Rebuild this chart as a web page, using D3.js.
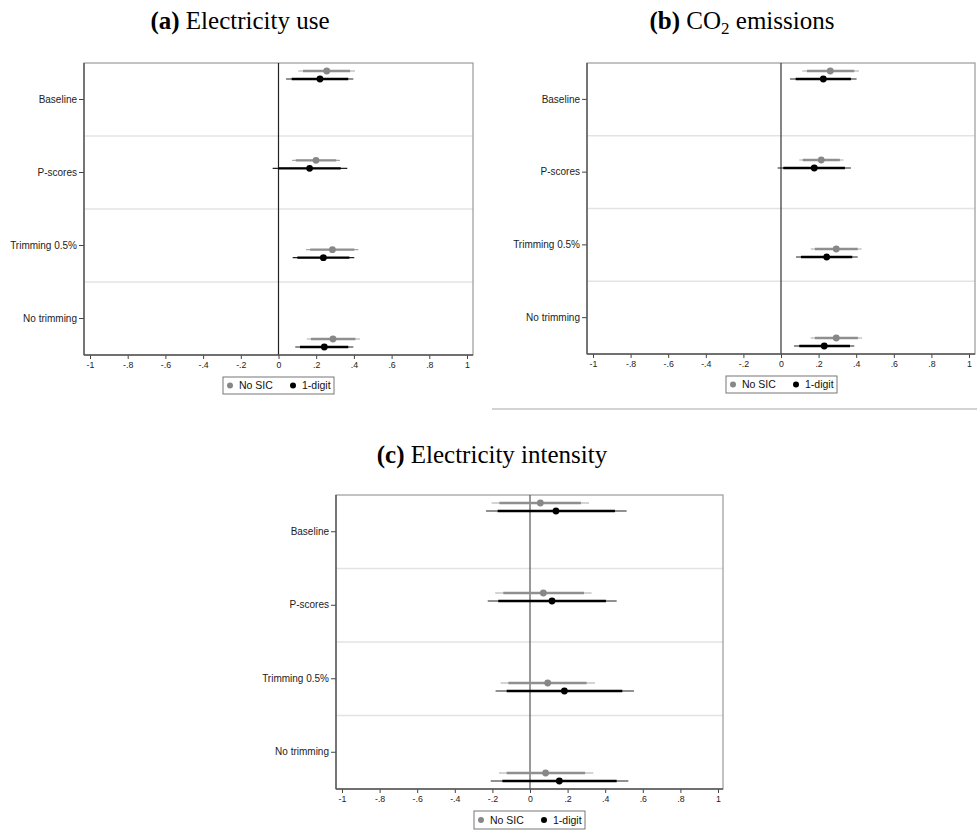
<!DOCTYPE html>
<html>
<head>
<meta charset="utf-8">
<script src="https://cdn.jsdelivr.net/npm/d3@7"></script>
<style>
  html, body { margin: 0; padding: 0; background: #fff; }
  svg { display: block; }
</style>
</head>
<body>
<svg id="fig" width="977" height="839"></svg>
<script>
// Specifications (rows) and the two fixed-effect variants (series)
const categories = ["Baseline", "P-scores", "Trimming 0.5%", "No trimming"];
const seriesNames = ["No SIC", "1-digit"];
const tickValues = [-1, -0.8, -0.6, -0.4, -0.2, 0, 0.2, 0.4, 0.6, 0.8, 1];
const tickLabels = ["-1", "-.8", "-.6", "-.4", "-.2", "0", ".2", ".4", ".6", ".8", "1"];

// Each row: [estimate, lo95, hi95, lo90, hi90]
const useNoSIC      = [[0.256, 0.105, 0.406, 0.130, 0.380],
                       [0.199, 0.072, 0.326, 0.092, 0.306],
                       [0.286, 0.146, 0.424, 0.168, 0.402],
                       [0.289, 0.150, 0.432, 0.172, 0.408]];
const useOneDigit   = [[0.220, 0.040, 0.397, 0.070, 0.370],
                       [0.165, -0.031, 0.365, 0.000, 0.330],
                       [0.238, 0.075, 0.402, 0.100, 0.376],
                       [0.243, 0.089, 0.397, 0.114, 0.370]];
const co2NoSIC      = [[0.262, 0.113, 0.415, 0.138, 0.390],
                       [0.214, 0.097, 0.332, 0.116, 0.313],
                       [0.294, 0.158, 0.429, 0.180, 0.408],
                       [0.294, 0.158, 0.431, 0.180, 0.409]];
const co2OneDigit   = [[0.225, 0.048, 0.402, 0.078, 0.372],
                       [0.177, -0.018, 0.372, 0.012, 0.340],
                       [0.243, 0.080, 0.408, 0.106, 0.379],
                       [0.230, 0.069, 0.390, 0.097, 0.367]];
const intensNoSIC   = [[0.055, -0.204, 0.314, -0.163, 0.271],
                       [0.071, -0.185, 0.328, -0.142, 0.287],
                       [0.094, -0.156, 0.346, -0.115, 0.301],
                       [0.083, -0.165, 0.337, -0.124, 0.293]];
const intensOneDigit= [[0.138, -0.234, 0.514, -0.172, 0.452],
                       [0.117, -0.225, 0.461, -0.169, 0.404],
                       [0.183, -0.183, 0.553, -0.124, 0.491],
                       [0.156, -0.209, 0.523, -0.147, 0.461]];

const svg = d3.select("#fig");
const sans = "'Liberation Sans', Arial, sans-serif";
const serif = "'Liberation Serif', 'Times New Roman', serif";
const colors = { line95: ["#a9a9a9", "#222"], line90: ["#8f8f8f", "#000"], dot: ["#878787", "#000"] };

function drawTitle(cx, y, label, parts) {
  const t = svg.append("text")
    .attr("x", cx).attr("y", y)
    .attr("text-anchor", "middle")
    .attr("font-family", serif).attr("font-size", 25)
    .attr("fill", "#000");
  t.append("tspan").attr("font-weight", "bold").text(label);
  parts.forEach(p => {
    const s = t.append("tspan").text(p.text);
    if (p.sub) s.attr("font-size", 17).attr("dy", 5);
    if (p.reset) s.attr("dy", -5);
  });
}

function drawPanel(cfg, series) {
  const g = svg.append("g");
  const { left, right, top, bottom } = cfg.box;

  const x = d3.scaleLinear().domain([-1, 1]).range(cfg.xRange);
  const yBand = d3.scaleBand().domain(categories).range([top, bottom]);
  const yPt = d3.scaleLinear().domain([0, categories.length - 1]).range([top + 8, bottom - 16]);

  // row separators
  categories.slice(1).forEach(c => {
    g.append("line")
      .attr("x1", left).attr("x2", right)
      .attr("y1", yBand(c)).attr("y2", yBand(c))
      .attr("stroke", "#e3e3e3").attr("stroke-width", 1.5);
  });

  // plot-region frame
  g.append("rect")
    .attr("x", left).attr("y", top)
    .attr("width", right - left).attr("height", bottom - top)
    .attr("fill", "none").attr("stroke", "#9a9a9a").attr("stroke-width", 1.2);

  // zero reference line
  g.append("line")
    .attr("x1", x(0)).attr("x2", x(0))
    .attr("y1", top).attr("y2", bottom)
    .attr("stroke", cfg.zeroColor).attr("stroke-width", 1.2);

  // x axis
  const xAxis = d3.axisBottom(x)
    .tickValues(tickValues)
    .tickSize(4)
    .tickPadding(3)
    .tickFormat((d, i) => tickLabels[i]);
  const ax = g.append("g").attr("transform", `translate(0,${bottom})`).call(xAxis);
  ax.select(".domain").remove();
  ax.selectAll(".tick line").attr("stroke", "#444");
  ax.selectAll(".tick text").attr("font-family", sans).attr("font-size", 8.8).attr("fill", "#222");
  g.append("line").attr("x1", left).attr("x2", right).attr("y1", bottom).attr("y2", bottom)
    .attr("stroke", "#555").attr("stroke-width", 1.4);

  // y axis
  const yAxis = d3.axisLeft(yBand).tickSize(5).tickPadding(2);
  const ay = g.append("g").attr("transform", `translate(${left},0)`).call(yAxis);
  ay.select(".domain").remove();
  ay.selectAll(".tick line").attr("stroke", "#444");
  ay.selectAll(".tick text").attr("font-family", sans).attr("font-size", 10).attr("fill", "#222");
  g.append("line").attr("x1", left).attr("x2", left).attr("y1", top).attr("y2", bottom)
    .attr("stroke", "#555").attr("stroke-width", 1.4);

  // confidence intervals and point estimates
  series.forEach((rows, s) => {
    const off = s * 8;
    rows.forEach((r, i) => {
      const y = yPt(i) + off;
      g.append("line")
        .attr("x1", x(r[1])).attr("x2", x(r[2]))
        .attr("y1", y).attr("y2", y)
        .attr("stroke", colors.line95[s]).attr("stroke-width", 1.2);
      g.append("line")
        .attr("x1", x(r[3])).attr("x2", x(r[4]))
        .attr("y1", y).attr("y2", y)
        .attr("stroke", colors.line90[s]).attr("stroke-width", 2.4);
      g.append("circle")
        .attr("cx", x(r[0])).attr("cy", y).attr("r", 3.4)
        .attr("fill", colors.dot[s]);
    });
  });

  // legend
  const L = cfg.legend;
  g.append("rect")
    .attr("x", L.x).attr("y", L.y).attr("width", L.w).attr("height", L.h)
    .attr("fill", "#fff").attr("stroke", "#777").attr("stroke-width", 1);
  const items = [{ dx: 7, tx: 16 }, { dx: 70, tx: 79 }];
  seriesNames.forEach((name, s) => {
    g.append("circle")
      .attr("cx", L.x + items[s].dx).attr("cy", L.y + L.h / 2).attr("r", 3)
      .attr("fill", colors.dot[s]);
    g.append("text")
      .attr("x", L.x + items[s].tx).attr("y", L.y + L.h / 2 + 3.8)
      .attr("font-family", sans).attr("font-size", 10.5).attr("fill", "#111")
      .text(name);
  });
}

drawTitle(240, 29, "(a)", [{ text: " Electricity use" }]);
drawPanel({ box: { left: 84, right: 473, top: 63, bottom: 355 }, xRange: [90, 467],
            legend: { x: 223, y: 377, w: 111, h: 17 }, zeroColor: "#222" },
          [useNoSIC, useOneDigit]);

drawTitle(742, 29, "(b)", [{ text: " CO" }, { text: "2", sub: true }, { text: " emissions", reset: true }]);
drawPanel({ box: { left: 587, right: 975, top: 63, bottom: 354 }, xRange: [593, 969],
            legend: { x: 726, y: 376, w: 111, h: 17 }, zeroColor: "#333" },
          [co2NoSIC, co2OneDigit]);

// divider under panel (b)
svg.append("line").attr("x1", 492).attr("x2", 977).attr("y1", 409).attr("y2", 409)
  .attr("stroke", "#c4c4c4").attr("stroke-width", 1.3);

drawTitle(492, 463, "(c)", [{ text: " Electricity intensity" }]);
drawPanel({ box: { left: 336, right: 723, top: 495, bottom: 789 }, xRange: [342, 718],
            legend: { x: 474, y: 811, w: 111, h: 18 }, zeroColor: "#555" },
          [intensNoSIC, intensOneDigit]);
</script>
</body>
</html>
